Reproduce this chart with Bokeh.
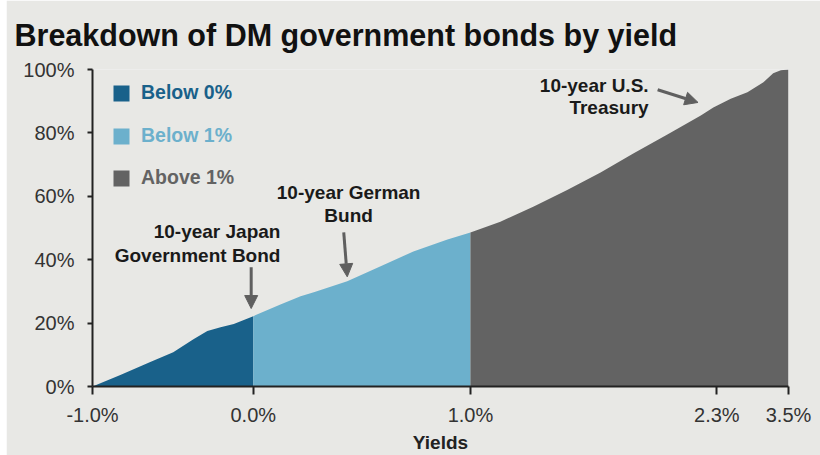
from bokeh.plotting import figure
from bokeh.models import (FixedTicker, Legend, LegendItem, Label, Arrow, NormalHead)
from bokeh.embed import file_html
from bokeh.resources import INLINE

# ---- data (x = position along the yield-sorted bond universe, y = cumulative share %) ----
pos_below0 = [0.0, 4.0, 8.3, 11.6, 14.5, 16.5, 18.4, 20.3, 23.1]
cum_below0 = [0.0, 3.6, 7.7, 10.8, 14.9, 17.5, 18.7, 19.7, 22.2]

pos_below1 = [23.1, 27.0, 29.9, 31.8, 36.6, 41.4, 46.1, 51.0, 54.3]
cum_below1 = [22.2, 25.9, 28.5, 29.7, 33.2, 37.9, 42.6, 46.4, 48.6]

pos_above1 = [54.3, 58.6, 63.4, 68.2, 73.0, 77.7, 82.6, 87.4, 89.2, 91.7, 94.1, 96.4, 97.8, 98.9, 100.0]
cum_above1 = [48.6, 52.0, 56.8, 62.0, 67.5, 73.5, 79.5, 85.5, 88.0, 90.8, 92.8, 96.0, 98.8, 99.8, 100.0]

x_tick_pos = [0.0, 23.1, 54.3, 89.7, 100.0]
x_tick_labels = ["-1.0%", "0.0%", "1.0%", "2.3%", "3.5%"]
y_ticks = [0, 20, 40, 60, 80, 100]
y_tick_labels = ["0%", "20%", "40%", "60%", "80%", "100%"]

series_names = ["Below 0%", "Below 1%", "Above 1%"]
series_colors = ["#19618a", "#6cb0cc", "#636363"]

TITLE = "Breakdown of DM government bonds by yield"

BG = "#e8e8e5"
FONT = "Liberation Sans"

p = figure(width=814, height=455, output_backend="svg", toolbar_location=None,
           x_range=(0, 100), y_range=(0, 100),
           min_border_left=86, min_border_right=32, min_border_top=69, min_border_bottom=67,
           background_fill_color=BG, border_fill_color=BG, outline_line_color=None,
           margin=(0, 0, 0, 6))

p.title.text = TITLE
p.title.text_font = FONT
p.title.text_font_size = "30.5px"
p.title.text_font_style = "bold"
p.title.text_color = "#111111"
p.title.align = "left"
p.title.vertical_align = "top"
p.title.offset = -78
p.title.standoff = 32

r1 = p.varea(x=pos_below0, y1=[0] * len(pos_below0), y2=cum_below0, fill_color=series_colors[0])
r2 = p.varea(x=pos_below1, y1=[0] * len(pos_below1), y2=cum_below1, fill_color=series_colors[1])
r3 = p.varea(x=pos_above1, y1=[0] * len(pos_above1), y2=cum_above1, fill_color=series_colors[2])

p.xgrid.visible = False
p.ygrid.visible = False

xa = p.xaxis[0]
xa.ticker = FixedTicker(ticks=x_tick_pos)
xa.major_label_overrides = {t: l for t, l in zip(x_tick_pos, x_tick_labels)}
xa.minor_tick_line_color = None
xa.major_tick_in = 0
xa.major_tick_out = 8
xa.axis_line_width = 2
xa.axis_line_color = "#222222"
xa.major_tick_line_color = "#222222"
xa.major_tick_line_width = 2
xa.major_label_text_font = FONT
xa.major_label_text_font_size = "20px"
xa.major_label_text_color = "#333333"
xa.major_label_standoff = 9
xa.axis_label = "Yields"
xa.axis_label_text_font = FONT
xa.axis_label_text_font_size = "19px"
xa.axis_label_text_font_style = "bold"
xa.axis_label_text_color = "#222222"
xa.axis_label_standoff = 3

ya = p.yaxis[0]
ya.ticker = FixedTicker(ticks=y_ticks)
ya.major_label_overrides = {t: l for t, l in zip(y_ticks, y_tick_labels)}
ya.minor_tick_line_color = None
ya.major_tick_in = 0
ya.major_tick_out = 5
ya.axis_line_width = 2
ya.axis_line_color = "#222222"
ya.major_tick_line_color = "#222222"
ya.major_tick_line_width = 2
ya.major_label_text_font = FONT
ya.major_label_text_font_size = "20px"
ya.major_label_text_color = "#333333"
ya.major_label_standoff = 13

# legends (one per item so each label takes the series colour)
legend_locs = [(19, 282), (19, 239), (19, 197)]
for name, r, col, loc in zip(series_names, [r1, r2, r3], series_colors, legend_locs):
    leg = Legend(items=[LegendItem(label=name, renderers=[r])], location=loc,
                 glyph_width=20, glyph_height=20, label_standoff=10,
                 label_text_font=FONT, label_text_font_size="19.5px",
                 label_text_font_style="bold", label_text_color=col,
                 border_line_color=None, background_fill_alpha=0,
                 padding=0, margin=0, spacing=0)
    p.add_layout(leg)

# annotations
def add_label(x, y, text, align):
    p.add_layout(Label(x=x, y=y, text=text, text_align=align, text_baseline="middle",
                       text_font=FONT, text_font_size="19px", text_font_style="bold",
                       text_color="#1a1a1a"))

add_label(27.0, 48.9, "10-year Japan", "right")
add_label(27.0, 41.4, "Government Bond", "right")
add_label(36.8, 61.2, "10-year German", "center")
add_label(36.8, 53.9, "Bund", "center")
add_label(79.9, 95.1, "10-year U.S.", "right")
add_label(79.9, 87.9, "Treasury", "right")

ARROW = "#5f5f5f"
for xs, ys, xe, ye in [(22.8, 37.6, 22.8, 24.6), (36.1, 48.6, 36.6, 34.6), (81.2, 93.6, 87.0, 89.6)]:
    p.add_layout(Arrow(x_start=xs, y_start=ys, x_end=xe, y_end=ye,
                       line_color=ARROW, line_width=3,
                       end=NormalHead(size=13, fill_color=ARROW, line_color=ARROW)))

open("out.html", "w").write(file_html(p, INLINE))
